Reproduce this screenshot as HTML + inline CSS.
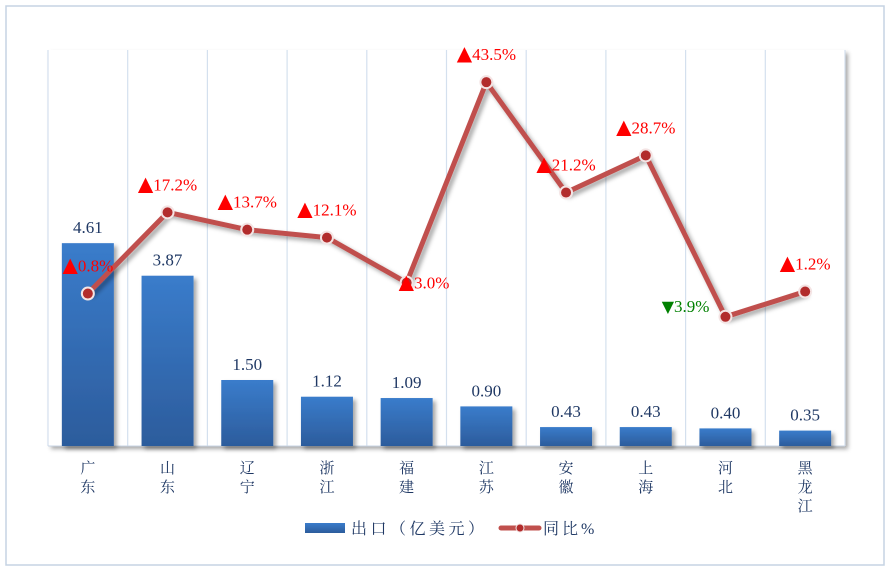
<!DOCTYPE html>
<html><head><meta charset="utf-8"><style>
body{margin:0;background:#fff;}
svg{display:block;font-family:"Liberation Serif","Noto Serif CJK SC",serif;}
</style></head><body>
<svg width="894" height="573" viewBox="0 0 894 573">
<defs>
<linearGradient id="bg" x1="0" y1="0" x2="0" y2="1"><stop offset="0" stop-color="#3a7ccb"/><stop offset="1" stop-color="#2c5c9c"/></linearGradient>
<filter id="sh" x="-10%" y="-10%" width="130%" height="130%"><feDropShadow dx="3" dy="3" stdDeviation="2" flood-color="#000" flood-opacity="0.35"/></filter>
</defs>
<rect x="6" y="6" width="878" height="559" fill="#fff" stroke="#c5d3e3" stroke-width="1.5"/>
<rect x="48" y="50" width="797" height="396" fill="#fff" filter="url(#sh)"/>
<g id="grid"></g><g id="bars"></g><g id="line"></g><g id="labels"></g>
<g>
<rect x="305" y="523" width="40" height="10" fill="url(#bg)"/>
<text x="351" y="534" font-size="16" letter-spacing="3.5" fill="#1f3864">出口（亿美元）</text>
<line x1="501" y1="528" x2="539" y2="528" stroke="#c0504d" stroke-width="5" stroke-linecap="round"/>
<circle cx="520" cy="528" r="4" fill="#b22c2c" stroke="#f0e0e0" stroke-width="1"/>
<text x="543" y="534" font-size="16" letter-spacing="3" fill="#1f3864">同比%</text>
</g>
</svg>
<script>
const categories=["广东","山东","辽宁","浙江","福建","江苏","安徽","上海","河北","黑龙江"];
const exportValues=[4.61,3.87,1.50,1.12,1.09,0.90,0.43,0.43,0.40,0.35];
const yoyValues=[0.8,17.2,13.7,12.1,3.0,43.5,21.2,28.7,-3.9,1.2];
const labelSide=["up","up","up","up","right","up","up","up","left","up"];
const NS="http://www.w3.org/2000/svg";
const L=48,T=50,W=797,H=396,B=T+H,cw=W/categories.length;
const yBar=v=>B-v/9*H;
const yLine=v=>B-(v+30)/80*H;
const xC=i=>L+(i+0.5)*cw;
function mk(tag,attrs,parent,txt){const e=document.createElementNS(NS,tag);for(const k in attrs)e.setAttribute(k,attrs[k]);if(txt!==undefined)e.textContent=txt;(typeof parent==='string'?document.getElementById(parent):parent).appendChild(e);return e;}
for(let i=0;i<=categories.length;i++){
 const g=mk('line',{x1:L+i*cw,x2:L+i*cw,y1:T,y2:B,stroke:'#d4e0ee','stroke-width':1.2},'grid');
 
 
}
const ax=mk('line',{x1:L,x2:L+W,y1:B,y2:B,stroke:'#c9d6e6','stroke-width':1},'grid');


categories.forEach((c,i)=>{
 const v=exportValues[i],y=yBar(v),x=xC(i)-26;
 const r=mk('rect',{x:x,y:y,width:52,height:B-y,fill:'url(#bg)',filter:'url(#sh)'},'bars');
 
 
 const t=mk('text',{x:xC(i),y:y-10,'font-size':17,fill:'#1f3864','text-anchor':'middle'},'labels',v.toFixed(2));
 
 
 const ct=mk('text',{'font-size':15,fill:'#1f3864','text-anchor':'middle'},'labels');
 
 
 [...c].forEach((ch,k)=>{mk('tspan',{x:xC(i),y:473+k*19},ct,ch);});
});
const pts=yoyValues.map((v,i)=>xC(i)+','+yLine(v)).join(' ');
const pl=mk('polyline',{points:pts,fill:'none',stroke:'#c0504d','stroke-width':5,'stroke-linejoin':'round',filter:'url(#sh)'},'line');


yoyValues.forEach((v,i)=>{
 const x=xC(i),y=yLine(v);
 const c=mk('circle',{cx:x,cy:y,r:6,fill:'#b22c2c',stroke:'#f4e4e4','stroke-width':2},'line');
 
 
 const up=v>=0,col=up?'#ff0000':'#008000';
 let a={'font-size':17,fill:col};
 if(labelSide[i]==='up'){a.x=x;a.y=y-22;a['text-anchor']='middle';}
 else if(labelSide[i]==='right'){a.x=x-8;a.y=y+6;a['text-anchor']='start';}
 else {a.x=x-16;a.y=y-5;a['text-anchor']='end';}
 const t=mk('text',a,'labels');
 
 
 mk('tspan',{'font-size':up?20:16,'font-family':'DejaVu Sans'},t,up?'▲':'▼');
 mk('tspan',{},t,Math.abs(v).toFixed(1)+'%');
});
</script>
</body></html>
